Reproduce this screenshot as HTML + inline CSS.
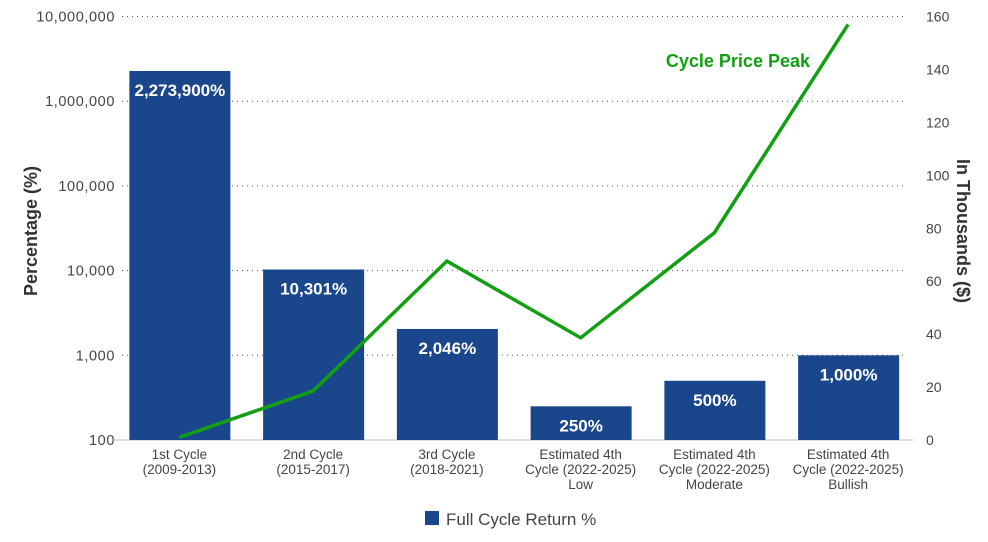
<!DOCTYPE html>
<html><head><meta charset="utf-8"><style>
body{margin:0;background:#fff;font-family:"Liberation Sans",sans-serif}
svg text{font-family:"Liberation Sans",sans-serif}
</style></head><body>
<svg id="c" width="988" height="537" xmlns="http://www.w3.org/2000/svg"></svg>
<script>
const categories=[["1st Cycle","(2009-2013)"],["2nd Cycle","(2015-2017)"],["3rd Cycle","(2018-2021)"],["Estimated 4th","Cycle (2022-2025)","Low"],["Estimated 4th","Cycle (2022-2025)","Moderate"],["Estimated 4th","Cycle (2022-2025)","Bullish"]];
const returns=[2273900,10301,2046,250,500,1000];
const returnLabels=["2,273,900%","10,301%","2,046%","250%","500%","1,000%"];
const pricePeak=[1,18.5,67.6,38.6,78.3,157];
const leftTicks=[100,1000,10000,100000,1000000,10000000];
const leftTickLabels=["100","1,000","10,000","100,000","1,000,000","10,000,000"];
const rightTicks=[0,20,40,60,80,100,120,140,160];
const svg=document.getElementById('c');const NS="http://www.w3.org/2000/svg";
function mk(t,a,p){const e=document.createElementNS(NS,t);for(const k in a)e.setAttribute(k,a[k]);(p||svg).appendChild(e);return e;}
const x0=112.5,x1=915,yb=440,yt=16.5;
const yL=v=>yb-(Math.log10(v)-2)/5*(yb-yt);
const yR=v=>yb-v/160*(yb-yt);
const bw=(x1-x0)/categories.length;
const xc=i=>x0+bw*(i+0.5);
leftTicks.forEach((t,i)=>{
 const y=yL(t);
 if(i>0){const g=mk('line',{x1:122,x2:906,y1:y,y2:y,stroke:'#555','stroke-width':1,'stroke-dasharray':'1 4'});
 }
 const tx=mk('text',{x:115,y:y+5,'text-anchor':'end','font-size':14.5,'letter-spacing':'0.6',fill:'#444'});tx.textContent=leftTickLabels[i];
 
});
mk('line',{x1:113,x2:913,y1:yb,y2:yb,stroke:'#bbb'});
rightTicks.forEach(t=>{
 const tx=mk('text',{x:926,y:yR(t)+5,'font-size':14,fill:'#444'});tx.textContent=t;
 
});
returns.forEach((v,i)=>{
 const y=yL(v);
 const r=mk('rect',{x:xc(i)-50,y:y,width:101,height:yb-y,fill:'#1a468c'});
 
 const t=mk('text',{x:xc(i)+0.5,y:y+25,'text-anchor':'middle','font-size':17,'font-weight':'bold',fill:'#fff'});t.textContent=returnLabels[i];
 
});
categories.forEach((c,i)=>{
 c.forEach((s,j)=>{const t=mk('text',{x:xc(i),y:459+j*15,'text-anchor':'middle','font-size':13.5,fill:'#444'});t.textContent=s;
 });
});
const pl=mk('polyline',{points:pricePeak.map((v,i)=>xc(i)+','+yR(v)).join(' '),fill:'none',stroke:'#12a012','stroke-width':3.5});

const ll=mk('text',{x:810,y:67,'text-anchor':'end','font-size':18,'font-weight':'bold',fill:'#12a012'});ll.textContent="Cycle Price Peak";

const at=mk('text',{x:0,y:0,transform:'translate(37,231) rotate(-90)','text-anchor':'middle','font-size':18,'font-weight':'bold',fill:'#333'});at.textContent="Percentage (%)";

const rt=mk('text',{x:0,y:0,transform:'translate(957,231) rotate(90)','text-anchor':'middle','font-size':18,'font-weight':'bold',fill:'#333'});rt.textContent="In Thousands ($)";

const lr=mk('rect',{x:425,y:511,width:14,height:14,fill:'#1a468c'});

const lt=mk('text',{x:446,y:525,'font-size':17,fill:'#444'});lt.textContent="Full Cycle Return %";

</script>
</body></html>
